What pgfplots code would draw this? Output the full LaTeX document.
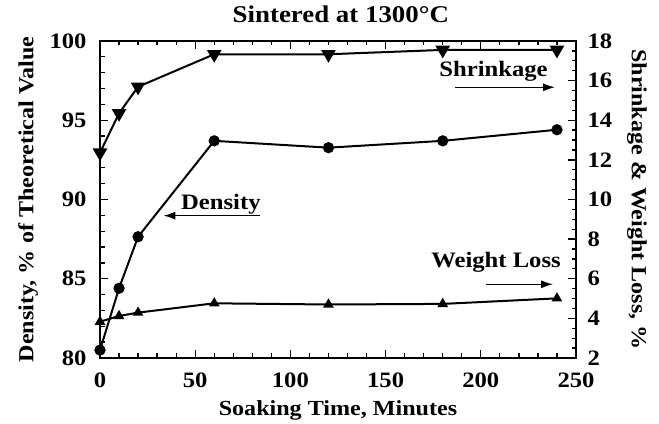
\documentclass[border=0pt]{standalone}
\usepackage{fontspec}
\setmainfont{Liberation Serif}[FakeStretch=1.12]
\usepackage{pgfplots}
\pgfplotsset{compat=1.18}
\usetikzlibrary{arrows.meta}

\pgfplotstableread{
x y
0 80.5
10 84.4
20 87.65
60 93.7
120 93.27
180 93.7
240 94.4
}\density
\pgfplotstableread{
x y
0 12.36
10 14.35
20 15.69
60 17.33
120 17.33
180 17.55
240 17.55
}\shrinkage
\pgfplotstableread{
x y
0 3.83
10 4.12
20 4.29
60 4.76
120 4.70
180 4.73
240 5.01
}\weightloss

\begin{document}
\begin{tikzpicture}[font=\fontsize{22}{26}\selectfont\bfseries]
\pgfplotsset{
  common/.style={
    scale only axis, width=476pt, height=317pt,
    xmin=0, xmax=250,
    /pgf/number format/assume math mode=true,
    tick label style={font=\fontsize{22}{26}\selectfont\bfseries},
    label style={font=\fontsize{21.5}{26}\selectfont\bfseries},
    tick align=inside,
    major tick length=8pt, minor tick length=4.5pt,
    every tick/.style={black, line width=1.3pt},
    axis line style={line width=1.8pt},
  }
}
\begin{axis}[common, name=main,
  ymin=80, ymax=100,
  xtick={0,50,...,250}, minor x tick num=4,
  ytick={80,85,...,100}, minor y tick num=4,
  xtick pos=both, ytick pos=left,
  xticklabel style={yshift=-11pt},
  yticklabel style={xshift=-10pt},
  title={Sintered at 1300°C},
  title style={at={(axis description cs:0.506,1.066)}, anchor=center, font=\fontsize{24}{28}\selectfont\bfseries},
  xlabel={Soaking Time, Minutes},
  xlabel style={at={(axis description cs:0.5,-0.164)}, anchor=center},
  ylabel={Density, \% of Theoretical Value},
  ylabel style={at={(axis description cs:-0.151,0.5)}, anchor=center},
  clip=false,
]
\addplot[black, line width=2pt, mark=*, mark size=4.6pt] table[x=x,y=y] {\density};
\node[anchor=base] at (axis cs:206.7,97.73) {Shrinkage};
\draw[line width=1.5pt, -{Latex[length=12pt,width=8pt]}] (axis cs:186.4,97.08) -- (axis cs:239,97.08);
\node[anchor=base] at (axis cs:63.5,89.4) {Density};
\draw[line width=1.5pt, -{Latex[length=12pt,width=8pt]}] (axis cs:84,88.98) -- (axis cs:33.3,88.98);
\node[anchor=base] at (axis cs:208,85.68) {Weight Loss};
\draw[line width=1.5pt, -{Latex[length=12pt,width=8pt]}] (axis cs:202.7,84.65) -- (axis cs:238,84.65);
\end{axis}
\begin{axis}[common,
  ymin=2, ymax=18,
  axis x line=none, axis y line*=right,
  ytick={2,4,...,18}, minor y tick num=3,
  yticklabel style={xshift=8pt},
  ylabel={Shrinkage \& Weight Loss, \%},
  ylabel style={at={(axis description cs:1.128,0.5)}, anchor=center, rotate=180},
]
\addplot[black, line width=2pt, mark=triangle*, mark size=6.5pt, mark options={rotate=180}] table[x=x,y=y] {\shrinkage};
\addplot[black, line width=2pt, mark=triangle*, mark size=4.2pt] table[x=x,y=y] {\weightloss};
\end{axis}
\pgfresetboundingbox
\path[use as bounding box] ([shift={(-100pt,-66pt)}]main.south west) rectangle ([shift={(83pt,41pt)}]main.north east);
\end{tikzpicture}
\end{document}
